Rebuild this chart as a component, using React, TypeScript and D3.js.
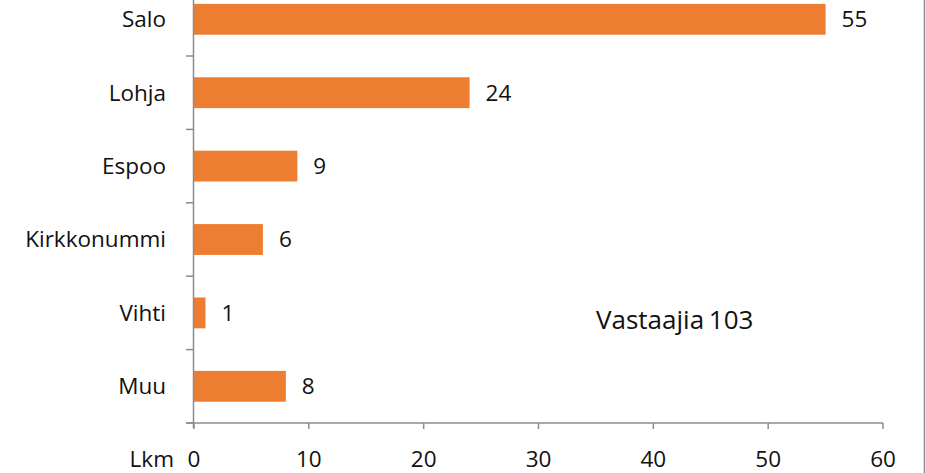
import React, { useRef, useEffect } from "react";
import * as d3 from "d3";

const categories = ["Salo", "Lohja", "Espoo", "Kirkkonummi", "Vihti", "Muu"];
const values = [55, 24, 9, 6, 1, 8];
const xTicks = [0, 10, 20, 30, 40, 50, 60];

export default function App() {
  const ref = useRef<SVGSVGElement | null>(null);

  useEffect(() => {
    const svg = d3.select(ref.current);
    svg.selectAll("*").remove();

    const left = 194;
    const right = 883;
    const axisY = 423;
    const bandStep = 73.4;
    const top = axisY - bandStep * categories.length;
    const font = "'Open Sans', Lato, sans-serif";
    const gray = "#8c8c8c";

    const x = d3.scaleLinear().domain([0, 60]).range([left, right]);
    const y = d3
      .scaleBand()
      .domain(categories)
      .range([top, axisY])
      .paddingInner(0.58)
      .paddingOuter(0.29);

    // right border
    svg
      .append("line")
      .attr("x1", 924.5)
      .attr("x2", 924.5)
      .attr("y1", 0)
      .attr("y2", 473)
      .attr("stroke", gray)
      .attr("stroke-width", 1.5);

    svg
      .selectAll("rect.bar")
      .data(categories)
      .enter()
      .append("rect")
      .attr("class", "bar")
      .attr("x", x(0))
      .attr("y", (d) => y(d)!)
      .attr("width", (d, i) => x(values[i]) - x(0))
      .attr("height", y.bandwidth())
      .attr("fill", "#ed7d31");

    const txt = (sel: any, size: number) =>
      sel
        .attr("font-family", font)
        .attr("font-size", size)
        .attr("fill", "#111")
        .style("font-variant-ligatures", "none");

    svg
      .selectAll("text.val")
      .data(categories)
      .enter()
      .append("text")
      .attr("class", "val")
      .attr("x", (d, i) => x(values[i]) + 16)
      .attr("y", (d) => y(d)! + y.bandwidth() / 2)
      .attr("dy", "0.35em")
      .call(txt, 22.5)
      .text((d, i) => values[i]);

    // y axis
    svg
      .append("line")
      .attr("x1", left - 0.5)
      .attr("x2", left - 0.5)
      .attr("y1", top)
      .attr("y2", axisY + 5)
      .attr("stroke", gray)
      .attr("stroke-width", 1.5);

    const bounds = d3.range(categories.length + 1).map((i) => top + i * bandStep);
    svg
      .selectAll("line.ytick")
      .data(bounds)
      .enter()
      .append("line")
      .attr("class", "ytick")
      .attr("x1", left - 8)
      .attr("x2", left)
      .attr("y1", (d) => d)
      .attr("y2", (d) => d)
      .attr("stroke", gray)
      .attr("stroke-width", 1.5);

    svg
      .selectAll("text.cat")
      .data(categories)
      .enter()
      .append("text")
      .attr("class", "cat")
      .attr("x", left - 28)
      .attr("y", (d) => y(d)! + y.bandwidth() / 2)
      .attr("dy", "0.35em")
      .attr("text-anchor", "end")
      .call(txt, 22.5)
      .text((d) => d);

    // x axis
    svg
      .append("line")
      .attr("x1", left - 8)
      .attr("x2", right)
      .attr("y1", axisY)
      .attr("y2", axisY)
      .attr("stroke", gray)
      .attr("stroke-width", 1.5);

    svg
      .selectAll("line.xtick")
      .data(xTicks)
      .enter()
      .append("line")
      .attr("class", "xtick")
      .attr("x1", (d) => x(d))
      .attr("x2", (d) => x(d))
      .attr("y1", axisY)
      .attr("y2", axisY + 6)
      .attr("stroke", gray)
      .attr("stroke-width", 1.5);

    svg
      .selectAll("text.xlab")
      .data(xTicks)
      .enter()
      .append("text")
      .attr("class", "xlab")
      .attr("x", (d) => x(d))
      .attr("y", 459)
      .attr("dy", "0.35em")
      .attr("text-anchor", "middle")
      .call(txt, 22.5)
      .text((d) => d);

    svg
      .append("text")
      .attr("x", 174)
      .attr("y", 459)
      .attr("dy", "0.35em")
      .attr("text-anchor", "end")
      .call(txt, 22.5)
      .text("Lkm");

    svg
      .append("text")
      .attr("x", 596)
      .attr("y", 320)
      .attr("dy", "0.35em")
      .attr("word-spacing", -2)
      .call(txt, 26)
      .text("Vastaajia 103");
  }, []);

  return (
    <svg
      ref={ref}
      width={926}
      height={473}
      style={{ position: "absolute", left: 0, top: 0, background: "#fff" }}
    />
  );
}
